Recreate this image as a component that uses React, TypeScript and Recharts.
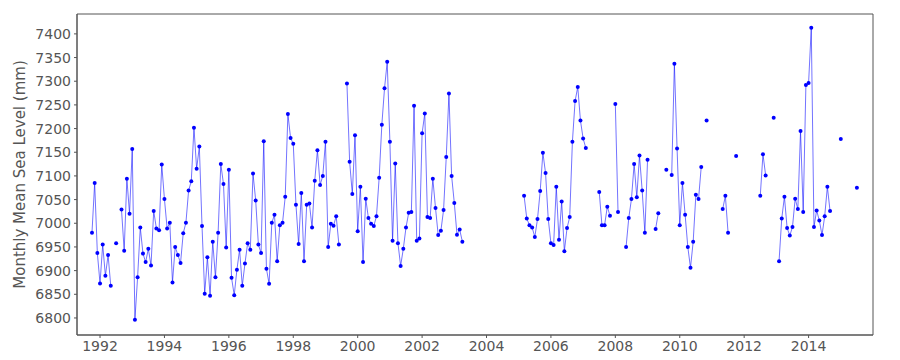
import React from "react";
import { LineChart, Line, XAxis, YAxis, ReferenceArea, Label } from "recharts";

// first run of monthly readings starts Oct 1991, second one Mar 2005
const firstStart: [number, number] = [1991, 10];
const firstLevels: (number | null)[] = [
	6980, 7085, 6937, 6873, 6955, 6889, 6933, 6868, null, 6958, null, 7029,
	6942, 7094, 7020, 7157, 6796, 6886, 6991, 6936, 6918, 6946, 6911, 7026,
	6989, 6985, 7124, 7051, 6989, 7001, 6875, 6950, 6933, 6916, 6979, 7001,
	7069, 7089, 7202, 7115, 7162, 6994, 6851, 6928, 6847, 6961, 6886, 6980,
	7125, 7083, 6949, 7113, 6885, 6848, 6902, 6944, 6868, 6915, 6958, 6944,
	7105, 7048, 6955, 6937, 7173, 6904, 6872, 7001, 7018, 6920, 6996, 7001,
	7056, 7231, 7180, 7168, 7039, 6956, 7064, 6920, 7039, 7042, 6991, 7090,
	7154, 7081, 7100, 7172, 6950, 6999, 6995, 7015, 6955, null, null, 7295,
	7130, 7062, 7186, 6983, 7077, 6918, 7052, 7011, 6999, 6994, 7015, 7096,
	7208, 7285, 7341, 7172, 6963, 7126, 6958, 6910, 6946, 6991, 7022, 7024,
	7248, 6963, 6968, 7190, 7232, 7013, 7011, 7094, 7032, 6975, 6984, 7028,
	7140, 7274, 7100, 7043, 6976, 6987, 6961,
];

const secondStart: [number, number] = [2005, 3];
const secondLevels: (number | null)[] = [
	7058, 7010, 6996, 6991, 6971, 7009, 7068, 7149, 7106, 7009, 6958, 6954,
	7077, 6965, 7046, 6941, 6990, 7013, 7172, 7258, 7288, 7217, 7179, 7159,
	null, null, null, null, 7066, 6996, 6996, 7035, 7016, null, 7252, 7024,
	null, null, 6950, 7011, 7051, 7125, 7055, 7143, 7069, 6980, 7134, null,
	null, 6988, 7021, null, null, 7113, null, 7102, 7337, 7158, 6996, 7085,
	7018, 6950, 6906, 6961, 7060, 7051, 7119, null, 7217, null, null, null,
	null, null, 7030, 7058, 6980, null, null, 7142, null, null, null, null,
	null, null, null, null, 7058, 7146, 7101, null, null, 7223, null, 6920,
	7010, 7056, 6990, 6974, 6992, 7052, 7030, 7195, 7024, 7292, 7296, 7413,
	6992, 7027, 7006, 6975, 7015, 7077, 7026, null, null, null, 7178, null,
	null, null, null, null, 7075,
];

const yTicks = [6800, 6850, 6900, 6950, 7000, 7050, 7100, 7150, 7200, 7250, 7300, 7350, 7400];
const xTicks = [1992, 1994, 1996, 1998, 2000, 2002, 2004, 2006, 2008, 2010, 2012, 2014];

const X_DOMAIN: [number, number] = [1991.285, 2016.0];
const Y_DOMAIN: [number, number] = [6764, 7442];

const toRows = (start: [number, number], levels: (number | null)[]) =>
	levels.map((level, i) => ({ t: start[0] + (start[1] - 1 + i) / 12, level }));

const data = [
	...toRows(firstStart, firstLevels),
	{ t: 2004.2, level: null },
	...toRows(secondStart, secondLevels),
];

const tickStyle = { fontSize: 14, fill: "#555", fontFamily: "DejaVu Sans" };

export default function App() {
	return (
		<div style={{ position: "absolute", left: 0, top: 0, background: "#fff" }}>
			<LineChart width={900} height={360} data={data} margin={{ top: 14, right: 27, bottom: 0, left: 0 }}>
				<XAxis
					dataKey="t"
					type="number"
					domain={X_DOMAIN}
					ticks={xTicks}
					allowDataOverflow
					height={25}
					tick={tickStyle}
					tickSize={3}
					tickMargin={3}
					stroke="#555"
				/>
				<YAxis
					type="number"
					domain={Y_DOMAIN}
					ticks={yTicks}
					allowDataOverflow
					width={77}
					tick={tickStyle}
					tickSize={3}
					tickMargin={3}
					stroke="#555"
				>
					<Label
						value="Monthly Mean Sea Level (mm)"
						angle={-90}
						position="insideLeft"
						offset={20}
						style={{ textAnchor: "middle", fontSize: 15, fill: "#555", fontFamily: "DejaVu Sans" }}
					/>
				</YAxis>
				<ReferenceArea
					x1={X_DOMAIN[0]}
					x2={X_DOMAIN[1]}
					y1={Y_DOMAIN[0]}
					y2={Y_DOMAIN[1]}
					fill="none"
					stroke="#555"
					ifOverflow="visible"
				/>
				<Line
					dataKey="level"
					type="linear"
					stroke="#0000ff"
					strokeOpacity={0.55}
					strokeWidth={1}
					dot={{ r: 2, fill: "#0000ff", stroke: "none" }}
					activeDot={false}
					isAnimationActive={false}
				/>
			</LineChart>
		</div>
	);
}
